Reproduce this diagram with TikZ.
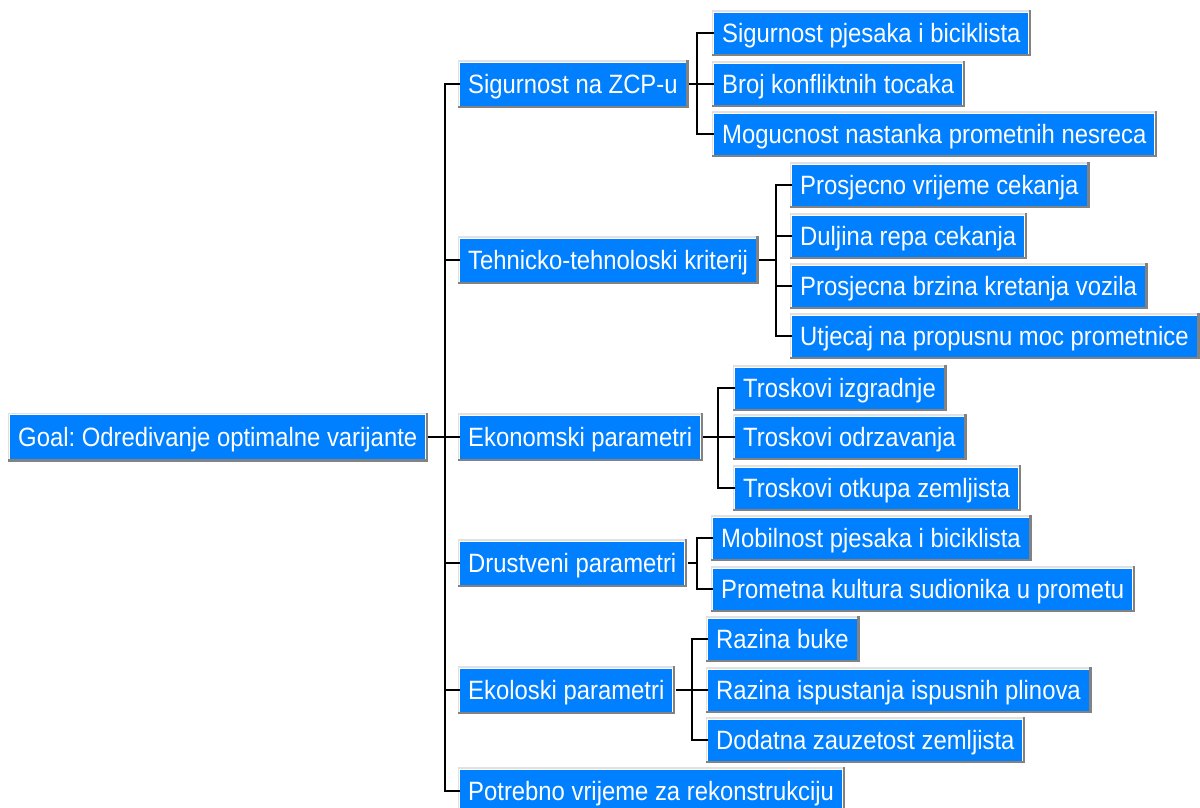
\documentclass[tikz,border=0pt]{standalone}
\usepackage{fontspec}
\setmainfont{Liberation Sans}[FakeStretch=0.9]
\frenchspacing
\definecolor{boxblue}{RGB}{0,128,255}
\definecolor{bevlight}{RGB}{225,225,225}
\definecolor{bevdark}{RGB}{130,130,130}
\tikzset{
  box/.style={fill=boxblue, text=white, anchor=west, inner xsep=8pt, inner ysep=0pt,
    text height=19pt, text depth=0pt, font=\fontsize{26.5}{30}\selectfont},
  rootbox/.style={box, minimum height=44pt},
  lvlbox/.style={box, minimum height=43pt},
  leafbox/.style={box, minimum height=41pt},
  conn/.style={draw=black, line width=1.4pt}
}
\begin{document}
\begin{tikzpicture}[x=1pt,y=-1pt]
\useasboundingbox[fill=white] (0,0) rectangle (1200,807);
% root
\node[rootbox] (root) at (10,437) {Goal: Odredivanje optimalne varijante};
% level 1
\node[lvlbox] (sig) at (460,84) {Sigurnost na ZCP-u};
\node[lvlbox] (teh) at (460,260) {Tehnicko-tehnoloski kriterij};
\node[lvlbox] (eko) at (460,437) {Ekonomski parametri};
\node[lvlbox] (dru) at (460,563) {Drustveni parametri};
\node[lvlbox] (ekl) at (460,690) {Ekoloski parametri};
\node[lvlbox] (pot) at (460,791) {Potrebno vrijeme za rekonstrukciju};
% leaves
\node[leafbox] (s1) at (714,33) {Sigurnost pjesaka i biciklista};
\node[leafbox] (s2) at (714,84) {Broj konfliktnih tocaka};
\node[leafbox] (s3) at (714,134) {Mogucnost nastanka prometnih nesreca};
\node[leafbox] (t1) at (792,185) {Prosjecno vrijeme cekanja};
\node[leafbox] (t2) at (792,236) {Duljina repa cekanja};
\node[leafbox] (t3) at (792,286) {Prosjecna brzina kretanja vozila};
\node[leafbox] (t4) at (792,336) {Utjecaj na propusnu moc prometnice};
\node[leafbox] (e1) at (735,388) {Troskovi izgradnje};
\node[leafbox] (e2) at (735,437) {Troskovi odrzavanja};
\node[leafbox] (e3) at (735,488) {Troskovi otkupa zemljista};
\node[leafbox] (d1) at (713,538) {Mobilnost pjesaka i biciklista};
\node[leafbox] (d2) at (713,589) {Prometna kultura sudionika u prometu};
\node[leafbox] (k1) at (708,639) {Razina buke};
\node[leafbox] (k2) at (708,690) {Razina ispustanja ispusnih plinova};
\node[leafbox] (k3) at (708,740) {Dodatna zauzetost zemljista};
% bevels
\foreach \n in {root,sig,teh,eko,dru,ekl,pot,s1,s2,s3,t1,t2,t3,t4,e1,e2,e3,d1,d2,k1,k2,k3}{
  \draw[bevlight, line width=1.5pt] ([xshift=-1.5pt,yshift=-2pt]\n.south west) -- ([xshift=-1.5pt,yshift=1.5pt]\n.north west) -- ([xshift=2pt,yshift=1.5pt]\n.north east);
  \draw[bevdark, line width=2.5pt] ([xshift=1.5pt,yshift=2pt]\n.north east) -- ([xshift=1.5pt,yshift=-1.5pt]\n.south east) -- ([xshift=-2pt,yshift=-1.5pt]\n.south west);
}
% branch coordinates
\coordinate (trunk) at (445,0);
\coordinate (bs) at (697,0);
\coordinate (bt) at (776,0);
\coordinate (be) at (718,0);
\coordinate (bd) at (697,0);
\coordinate (bk) at (692,0);
% trunk
\draw[conn] ([xshift=3pt]root.east) -- (root.east -| trunk);
\foreach \c in {sig,teh,eko,dru,ekl,pot}{
  \draw[conn] (root.east -| trunk) |- (\c.west);
}
% branches
\draw[conn] ([xshift=3pt]sig.east) -- (sig.east -| bs);
\foreach \c in {s1,s2,s3}{ \draw[conn] (sig.east -| bs) |- (\c.west); }
\draw[conn] ([xshift=3pt]teh.east) -- (teh.east -| bt);
\foreach \c in {t1,t2,t3,t4}{ \draw[conn] (teh.east -| bt) |- (\c.west); }
\draw[conn] ([xshift=3pt]eko.east) -- (eko.east -| be);
\foreach \c in {e1,e2,e3}{ \draw[conn] (eko.east -| be) |- (\c.west); }
\draw[conn] ([xshift=3pt]dru.east) -- (dru.east -| bd);
\foreach \c in {d1,d2}{ \draw[conn] (dru.east -| bd) |- (\c.west); }
\draw[conn] ([xshift=3pt]ekl.east) -- (ekl.east -| bk);
\foreach \c in {k1,k2,k3}{ \draw[conn] (ekl.east -| bk) |- (\c.west); }
\end{tikzpicture}
\end{document}
